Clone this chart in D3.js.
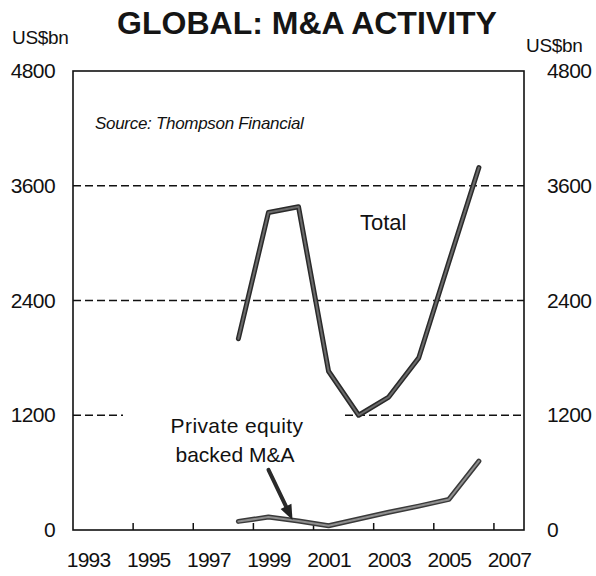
<!DOCTYPE html>
<html>
<head>
<meta charset="utf-8">
<script src="https://cdn.jsdelivr.net/npm/d3@7"></script>
<style>
  html, body { margin: 0; padding: 0; background: #fff; }
  svg { display: block; font-family: "Liberation Sans", Arial, sans-serif; }
</style>
</head>
<body>
<svg id="chart" width="596" height="576"></svg>
<script>
// ---- data ----
const years = d3.range(1993, 2008);
const tickYears = [1993, 1995, 1997, 1999, 2001, 2003, 2005, 2007];
const yTicks = [0, 1200, 2400, 3600, 4800];
const gridValues = [1200, 2400, 3600];
const dataYears = [1998, 1999, 2000, 2001, 2002, 2003, 2004, 2005, 2006];
const totalValues = [2000, 3320, 3380, 1660, 1200, 1390, 1800, 2800, 3790];
const peValues = [90, 135, 95, 45, 115, 185, 250, 320, 720];

// ---- layout ----
const svg = d3.select("#chart");
const L = 73, R = 524, T = 71, B = 530;

const x = d3.scaleBand().domain(years).range([L, R]).padding(0);
const xc = yr => x(yr) + x.bandwidth() / 2;
const y = d3.scaleLinear().domain([0, 4800]).range([B, T]);

// title
svg.append("text").attr("x", 307).attr("y", 34).attr("text-anchor", "middle")
  .attr("font-size", 32).attr("font-weight", "bold").attr("fill", "#151515")
  .text("GLOBAL: M&A ACTIVITY");
svg.append("text").attr("x", 12).attr("y", 44).attr("font-size", 19).attr("fill", "#111")
  .attr("letter-spacing", -0.3).text("US$bn");
svg.append("text").attr("x", 526).attr("y", 52).attr("font-size", 19).attr("fill", "#111")
  .attr("letter-spacing", -0.3).text("US$bn");

// gridlines (dashed)
const grid = svg.append("g").attr("stroke", "#111").attr("stroke-width", 1.5)
  .attr("stroke-dasharray", "8,4");
gridValues.forEach(v => {
  if (v === 1200) {
    grid.append("line").attr("x1", L).attr("x2", L + 50).attr("y1", y(v)).attr("y2", y(v));
    grid.append("line").attr("x1", 345).attr("x2", R).attr("y1", y(v)).attr("y2", y(v));
  } else {
    grid.append("line").attr("x1", L).attr("x2", R).attr("y1", y(v)).attr("y2", y(v));
  }
});

// frame
svg.append("rect").attr("x", L).attr("y", T).attr("width", R - L).attr("height", B - T)
  .attr("fill", "none").attr("stroke", "#111").attr("stroke-width", 1.6);

// left axis labels
const leftAxis = d3.axisLeft(y).tickValues(yTicks).tickFormat(d3.format("d"))
  .tickSize(0).tickPadding(18);
const gl = svg.append("g").attr("transform", `translate(${L},0)`).call(leftAxis);
gl.select(".domain").remove();
gl.selectAll("text").attr("font-size", 21).attr("fill", "#111")
  .attr("font-family", "Liberation Sans, Arial, sans-serif").attr("letter-spacing", -0.6);

// right axis labels
const rightAxis = d3.axisRight(y).tickValues(yTicks).tickFormat(d3.format("d"))
  .tickSize(0).tickPadding(23);
const gr = svg.append("g").attr("transform", `translate(${R},0)`).call(rightAxis);
gr.select(".domain").remove();
gr.selectAll("text").attr("font-size", 21).attr("fill", "#111")
  .attr("font-family", "Liberation Sans, Arial, sans-serif").attr("letter-spacing", -0.6);

// bottom ticks (at start of odd years) and labels (band centers)
const gt = svg.append("g").attr("stroke", "#111").attr("stroke-width", 1.5);
tickYears.filter(yr => yr > 1993).forEach(yr => {
  gt.append("line").attr("x1", x(yr)).attr("x2", x(yr)).attr("y1", B).attr("y2", B - 7);
});
const bottomAxis = d3.axisBottom(d3.scalePoint().domain(tickYears)
    .range([xc(1993), xc(2007)])).tickSize(0).tickPadding(22);
const gb = svg.append("g").attr("transform", `translate(0,${B})`).call(bottomAxis);
gb.select(".domain").remove();
gb.selectAll("text").attr("font-size", 21).attr("fill", "#111")
  .attr("font-family", "Liberation Sans, Arial, sans-serif").attr("letter-spacing", -0.8);

// lines
const line = d3.line().x((d, i) => xc(dataYears[i])).y(d => y(d));
function drawLine(vals, outer, inner) {
  svg.append("path").attr("d", line(vals)).attr("fill", "none")
    .attr("stroke", outer).attr("stroke-width", 5).attr("stroke-linejoin", "round").attr("stroke-linecap", "round");
  svg.append("path").attr("d", line(vals)).attr("fill", "none")
    .attr("stroke", inner).attr("stroke-width", 2).attr("stroke-linejoin", "round").attr("stroke-linecap", "round");
}
drawLine(totalValues, "#2a2a2a", "#6a6a6a");
drawLine(peValues, "#3a3a3a", "#8f8f8f");

// source
svg.append("text").attr("x", 95).attr("y", 129).attr("font-size", 17).attr("font-style", "italic")
  .attr("fill", "#111").attr("letter-spacing", -0.3).text("Source: Thompson Financial");

// labels
svg.append("text").attr("x", 360).attr("y", 230).attr("font-size", 22).attr("fill", "#111")
  .text("Total");
svg.append("text").attr("x", 237).attr("y", 433).attr("text-anchor", "middle")
  .attr("font-size", 21).attr("fill", "#111").attr("letter-spacing", 0.4).text("Private equity");
svg.append("text").attr("x", 235).attr("y", 462).attr("text-anchor", "middle")
  .attr("font-size", 21).attr("fill", "#111").text("backed M&A");

// arrow
const tipX = xc(2000) - 6, tipY = y(peValues[2]) - 1;
const sx = tipX - 24, sy = tipY - 50;
const len = Math.hypot(tipX - sx, tipY - sy);
const ux = (tipX - sx) / len, uy = (tipY - sy) / len;
const hb = 15, hw = 6;
const bx = tipX - ux * hb, by = tipY - uy * hb;
svg.append("line").attr("x1", sx).attr("y1", sy).attr("x2", bx).attr("y2", by)
  .attr("stroke", "#2a2a2a").attr("stroke-width", 4).attr("stroke-linecap", "round");
svg.append("path")
  .attr("d", `M${tipX},${tipY}L${bx - uy * hw},${by + ux * hw}L${bx + uy * hw},${by - ux * hw}Z`)
  .attr("fill", "#222");
</script>
</body>
</html>
